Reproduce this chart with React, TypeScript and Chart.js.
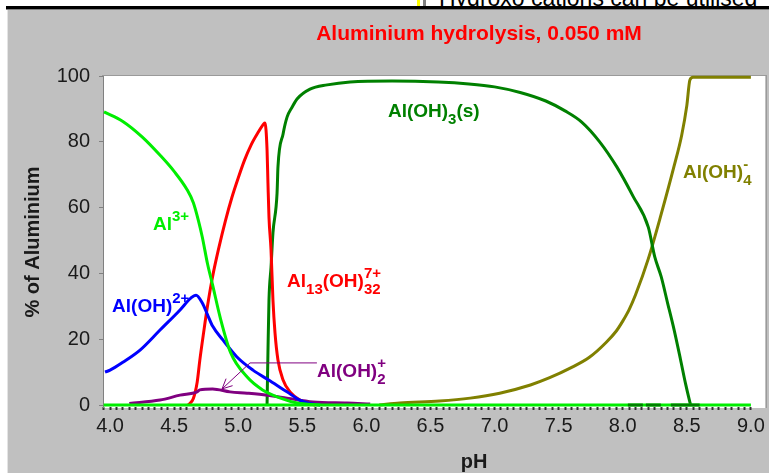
import { useEffect, useRef } from 'react';
import { Chart, registerables } from 'chart.js';

Chart.register(...registerables);

// ---------- data (pH, % of Aluminium) ----------
const al3: [number, number][] = [
  [3.953, 89.1], [4.1, 86.2], [4.25, 81.5], [4.4, 75.5], [4.5, 71.0], [4.6, 65.5],
  [4.65, 61.5], [4.69, 56.0], [4.72, 51.0], [4.76, 43.0], [4.8, 36.5], [4.86, 26.5],
  [4.94, 16.0], [5.07, 8.5], [5.19, 4.6], [5.33, 2.1], [5.46, 0.6], [5.64, 0],
];
const alOH: [number, number][] = [
  [3.961, 10.0], [4.0, 10.6], [4.1, 13.0], [4.234, 16.7], [4.39, 22.8], [4.546, 28.9],
  [4.63, 32.5], [4.671, 33.4], [4.72, 31.0], [4.76, 27.5], [4.8, 24.0], [4.88, 19.8],
  [4.99, 14.6], [5.115, 10.6], [5.25, 7.3], [5.38, 4.0], [5.48, 1.5], [5.54, 0.6], [5.64, 0],
];
const al13: [number, number][] = [
  [4.61, 0], [4.65, 2.0], [4.68, 7.0], [4.7, 13.5], [4.73, 22.0], [4.76, 30.0], [4.8, 39.0],
  [4.85, 48.0], [4.9, 56.0], [4.95, 63.0], [5.0, 69.0], [5.05, 74.5], [5.1, 79.0],
  [5.15, 82.5], [5.2, 85.5], [5.209, 85.7], [5.225, 77.5], [5.232, 67.5], [5.24, 57.1],
  [5.256, 47.1], [5.271, 31.9], [5.287, 21.9], [5.31, 13.7], [5.35, 7.6], [5.404, 4.0],
  [5.482, 1.5], [5.537, 0.6], [5.6, 0],
];
const alOH2: [number, number][] = [
  [4.15, 0.5], [4.39, 1.5], [4.546, 3.0], [4.679, 4.0], [4.70, 4.6], [4.80, 4.9],
  [4.936, 4.0], [5.069, 3.6], [5.225, 3.0], [5.38, 2.1], [5.583, 0.9], [5.85, 0.6], [6.03, 0.3],
];
const alOH3s: [number, number][] = [
  [5.225, 0], [5.232, 16], [5.24, 31.9], [5.256, 41.9], [5.271, 52.3], [5.303, 64.4],
  [5.31, 72.3], [5.35, 82.4], [5.381, 87.5], [5.42, 90.5], [5.459, 93.0], [5.56, 96.0],
  [5.694, 97.3], [5.873, 98.2], [6.2, 98.5], [6.56, 98.2], [6.8, 97.6], [7.0, 96.7],
  [7.2, 95.0], [7.4, 92.4], [7.55, 89.4], [7.68, 86.0], [7.82, 80.0], [7.955, 72.3],
  [8.08, 63.5], [8.2, 54], [8.25, 45], [8.3, 39], [8.35, 31], [8.4, 23], [8.45, 14],
  [8.49, 6.5], [8.52, 1.5], [8.53, 0],
];
const alOH3sTrace: [number, number][] = [[8.04, 0], [8.6, 0]];
const alOH4: [number, number][] = [
  [6.1, 0], [6.26, 0.6], [6.57, 1.2], [6.81, 2.1], [7.04, 3.6], [7.28, 6.1], [7.43, 8.3],
  [7.59, 11.2], [7.74, 14.5], [7.87, 19.0], [7.95, 22.5], [8.0, 25.5], [8.05, 29.0],
  [8.1, 33.5], [8.2, 44.5], [8.3, 58.0], [8.4, 72.5], [8.46, 82.0], [8.5, 91.0],
  [8.524, 98.8], [8.548, 99.6], [9.0, 99.6],
];
const baseline: [number, number][] = [[3.95, 0], [9.0, 0]];

const xMajorTicks = [4.0, 4.5, 5.0, 5.5, 6.0, 6.5, 7.0, 7.5, 8.0, 8.5, 9.0];
const xTickLabels = ['4.0', '4.5', '5.0', '5.5', '6.0', '6.5', '7.0', '7.5', '8.0', '8.5', '9.0'];
const yTicks = [0, 20, 40, 60, 80, 100];

const titleText = 'Aluminium hydrolysis, 0.050 mM';
const yTitle = '% of Aluminium';
const xTitle = 'pH';
const topText = 'Hydroxo cations can be utilised';

// ---------- helpers ----------
const FAMILY = "'Liberation Sans', Arial, sans-serif";
const MAIN = `bold 19px ${FAMILY}`;
const SMALL = `bold 15px ${FAMILY}`;

type Seg = { t: string; sub?: string; sup?: string };

function drawRich(ctx: CanvasRenderingContext2D, x: number, y: number, segs: Seg[], color: string) {
  ctx.fillStyle = color;
  ctx.textBaseline = 'alphabetic';
  ctx.textAlign = 'left';
  for (const s of segs) {
    if (s.t) {
      ctx.font = MAIN;
      ctx.fillText(s.t, x, y);
      x += ctx.measureText(s.t).width;
    }
    ctx.font = SMALL;
    let w = 0;
    if (s.sub) {
      ctx.fillText(s.sub, x, y + 7);
      w = Math.max(w, ctx.measureText(s.sub).width);
    }
    if (s.sup) {
      ctx.fillText(s.sup, x, y - 9);
      w = Math.max(w, ctx.measureText(s.sup).width);
    }
    x += w;
  }
}

const speciesLabels: { at: [number, number]; segs: Seg[]; color: string }[] = [
  { at: [4.335, 53.2], segs: [{ t: 'Al', sup: '3+' }], color: '#00ee00' },
  { at: [4.016, 28.3], segs: [{ t: 'Al(OH)', sup: '2+' }], color: '#0000ff' },
  { at: [5.381, 35.9], segs: [{ t: 'Al', sub: '13' }, { t: '(OH)', sub: '32', sup: '7+' }], color: '#ff0000' },
  { at: [5.615, 8.5], segs: [{ t: 'Al(OH)', sub: '2', sup: '+' }], color: '#800080' },
  { at: [6.168, 87.5], segs: [{ t: 'Al(OH)', sub: '3' }, { t: '(s)' }], color: '#008000' },
  { at: [8.47, 69.0], segs: [{ t: 'Al(OH)', sub: '4', sup: '-' }], color: '#808000' },
];

const bgPlugin = {
  id: 'bgPlot',
  beforeDraw(chart: any) {
    const { ctx, chartArea: a } = chart;
    ctx.save();
    ctx.fillStyle = '#ffffff';
    ctx.fillRect(a.left, a.top, a.right - a.left, a.bottom - a.top + 1);
    ctx.fillStyle = '#9a9a9a';
    ctx.fillRect(a.left - 1, a.top - 1, a.right - a.left + 3, 1);
    ctx.fillRect(a.right + 1, a.top - 1, 1, a.bottom - a.top + 2);
    ctx.restore();
  },
};

const textPlugin = {
  id: 'texts',
  afterDraw(chart: any) {
    const { ctx } = chart;
    const xs = chart.scales.x;
    const ys = chart.scales.y;
    ctx.save();
    // title
    ctx.font = `bold 21px ${FAMILY}`;
    ctx.fillStyle = '#ff0000';
    ctx.textAlign = 'center';
    ctx.textBaseline = 'middle';
    ctx.fillText(titleText, 472, 24);
    // x title
    ctx.font = `bold 20px ${FAMILY}`;
    ctx.fillStyle = '#1a1a1a';
    ctx.fillText(xTitle, 467, 452);
    // y title
    ctx.save();
    ctx.translate(26, 232);
    ctx.rotate(-Math.PI / 2);
    ctx.fillText(yTitle, 0, 0);
    ctx.restore();

    // purple connector with arrow
    const px = (v: number) => xs.getPixelForValue(v);
    const py = (v: number) => ys.getPixelForValue(v);
    ctx.strokeStyle = '#800080';
    ctx.lineWidth = 1;
    const sx = px(5.092), sy = py(12.8);
    const ex = px(5.614);
    const tx = px(4.874), ty = py(4.9);
    ctx.beginPath();
    ctx.moveTo(ex, sy);
    ctx.lineTo(sx, sy);
    ctx.lineTo(tx, ty);
    const ang = Math.atan2(sy - ty, sx - tx);
    const L = 11;
    ctx.moveTo(tx + L * Math.cos(ang - 0.45), ty + L * Math.sin(ang - 0.45));
    ctx.lineTo(tx, ty);
    ctx.lineTo(tx + L * Math.cos(ang + 0.45), ty + L * Math.sin(ang + 0.45));
    ctx.stroke();

    for (const l of speciesLabels) {
      drawRich(ctx, px(l.at[0]), py(l.at[1]), l.segs, l.color);
    }
    ctx.restore();
  },
};

const toXY = (arr: [number, number][]) => arr.map(([x, y]) => ({ x, y }));

export default function App() {
  const ref = useRef<HTMLCanvasElement>(null);

  useEffect(() => {
    if (!ref.current) return;
    const mk = (data: [number, number][], color: string, order: number, extra: any = {}) => ({
      data: toXY(data),
      borderColor: color,
      backgroundColor: color,
      borderWidth: 3,
      pointRadius: 0,
      fill: false,
      cubicInterpolationMode: 'monotone' as const,
      clip: false as const,
      order,
      ...extra,
    });
    const minor: number[] = [];
    for (let i = 395; i <= 900; i += 5) minor.push(i / 100);

    const chart = new Chart(ref.current, {
      type: 'line',
      data: {
        datasets: [
          mk(alOH3sTrace, '#008000', -1, { borderDash: [15, 3, 15, 10, 30, 200] }),
          mk(baseline, '#00ee00', 0),
          mk(al3, '#00ee00', 1),
          mk(alOH, '#0000ff', 2),
          mk(alOH2, '#800080', 3),
          mk(al13, '#ff0000', 4),
          mk(alOH3s, '#008000', 5),
          mk(alOH4, '#808000', 6),
        ],
      },
      options: {
        animation: false,
        responsive: false,
        devicePixelRatio: 1,
        layout: { padding: { top: 66, right: 4, left: 0, bottom: 0 } },
        plugins: {
          legend: { display: false },
          tooltip: { enabled: false },
          title: { display: false },
        },
        events: [],
        scales: {
          x: {
            type: 'linear',
            min: 3.945,
            max: 9.11,
            afterFit: (s: any) => { s.height = 66; },
            afterBuildTicks: (s: any) => { s.ticks = minor.map((v) => ({ value: v })); },
            border: { display: false },
            grid: {
              display: true,
              drawOnChartArea: false,
              drawTicks: true,
              tickLength: 3,
              tickWidth: 2,
              tickColor: '#303030',
            },
            ticks: {
              autoSkip: false,
              maxRotation: 0,
              minRotation: 0,
              padding: 4,
              color: '#1a1a1a',
              font: { family: FAMILY, size: 20 },
              callback: (v: any) => {
                const i = xMajorTicks.findIndex((m) => Math.abs(m - Number(v)) < 1e-6);
                return i >= 0 ? xTickLabels[i] : '';
              },
            },
          },
          y: {
            type: 'linear',
            min: -0.6,
            max: 100,
            afterFit: (s: any) => { s.width = 96; },
            afterBuildTicks: (s: any) => { s.ticks = yTicks.map((v) => ({ value: v })); },
            border: { display: true, color: '#808080', width: 1 },
            grid: {
              display: true,
              drawOnChartArea: false,
              drawTicks: true,
              tickLength: 4,
              color: '#808080',
            },
            ticks: {
              padding: 9,
              color: '#1a1a1a',
              font: { family: FAMILY, size: 20 },
              callback: (v: any) => String(v),
            },
          },
        },
      },
      plugins: [bgPlugin, textPlugin],
    } as any);
    return () => chart.destroy();
  }, []);

  return (
    <div style={{ position: 'fixed', left: 0, top: 0, width: 769, height: 473, background: '#ffffff', overflow: 'hidden' }}>
      <div style={{ position: 'absolute', left: 413, top: 0, width: 356, height: 6, overflow: 'hidden', background: '#ffffff' }}>
        <div style={{ position: 'absolute', left: 4, top: 0, width: 3, height: 6, background: '#ffff00' }} />
        <div style={{ position: 'absolute', left: 10, top: 0, width: 3, height: 6, background: '#808080' }} />
        <div style={{ position: 'absolute', left: 26, top: -13, font: `23px ${FAMILY}`, lineHeight: '23px', color: '#000', whiteSpace: 'nowrap' }}>{topText}</div>
      </div>
      <div style={{ position: 'absolute', left: 6, top: 6, width: 763, height: 3, background: '#000000' }} />
      <div style={{ position: 'absolute', left: 6, top: 9, width: 763, height: 1, background: '#808080' }} />
      <canvas ref={ref} width={762} height={463} style={{ position: 'absolute', left: 7, top: 10, width: 762, height: 463, background: '#c0c0c0', display: 'block' }} />
      <div style={{ position: 'absolute', left: 7, top: 10, width: 1, height: 463, background: '#e4e4e4' }} />
    </div>
  );
}
